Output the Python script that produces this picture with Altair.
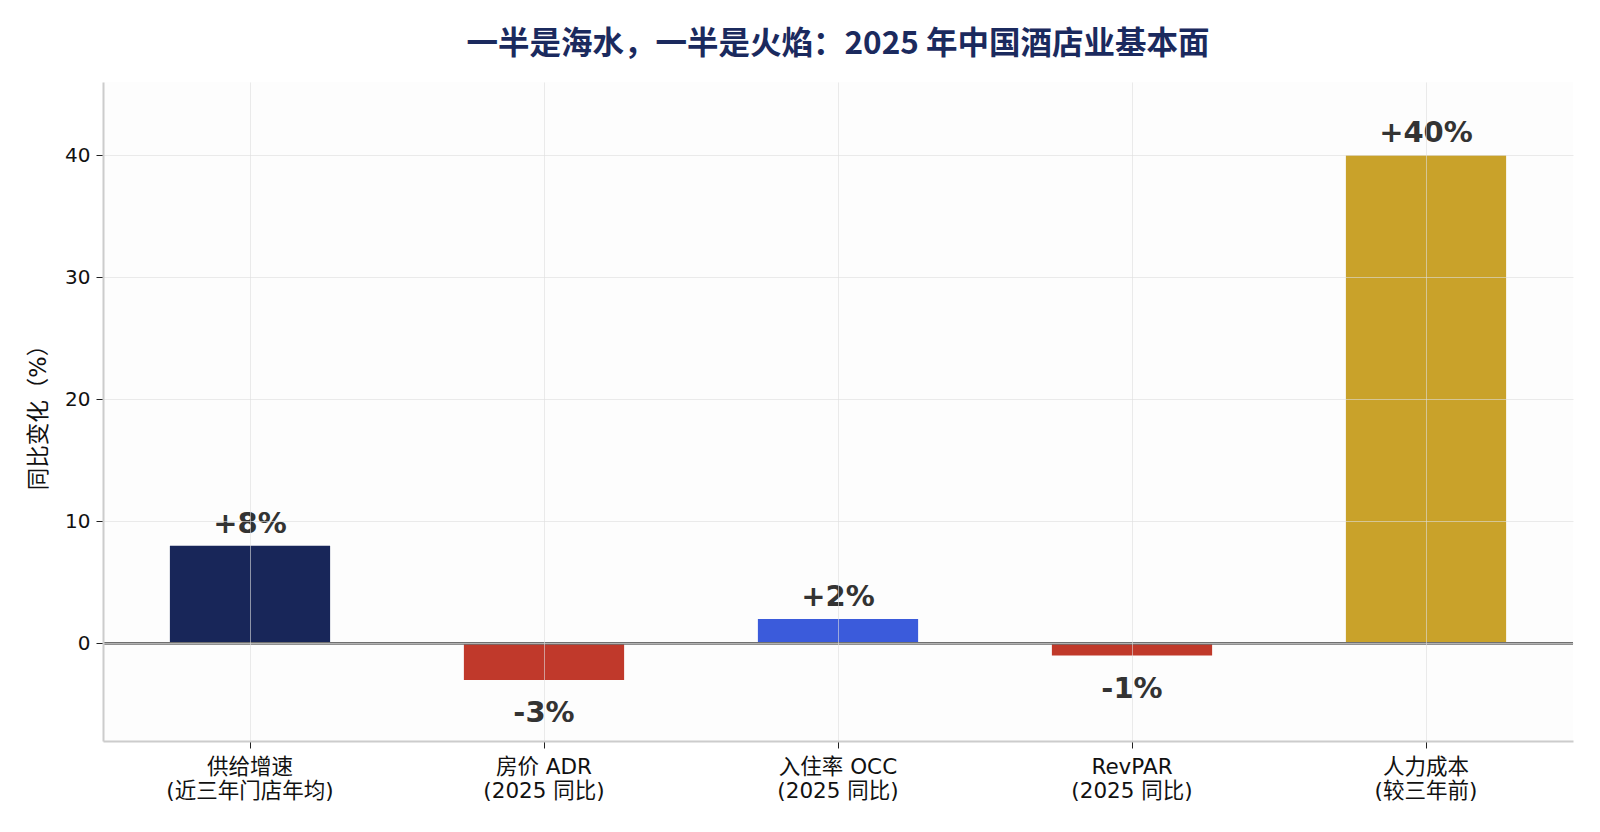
import altair as alt
import pandas as pd

categories = [
    "供给增速\n(近三年门店年均)",
    "房价 ADR\n(2025 同比)",
    "入住率 OCC\n(2025 同比)",
    "RevPAR\n(2025 同比)",
    "人力成本\n(较三年前)",
]
values = [8, -3, 2, -1, 40]
labels = ["+8%", "-3%", "+2%", "-1%", "+40%"]
bar_colors = ["#182659", "#c0392b", "#3b5bdb", "#c0392a", "#c9a22a"]

df = pd.DataFrame({"cat": categories, "value": values, "label": labels})

FONT = "DejaVu Sans, Noto Sans CJK SC"

x = alt.X(
    "cat:N",
    sort=categories,
    scale=alt.Scale(paddingInner=0.455, paddingOuter=0.2275),
    axis=alt.Axis(
        title=None,
        labelAngle=0,
        labelExpr="split(datum.label, '\\n')",
        labelFontSize=21.5,
        labelLineHeight=24,
        labelColor="#111",
        labelPadding=8,
        grid=True,
        gridColor="#dddddd",
        gridOpacity=0.6,
        tickColor="#222",
        tickSize=7,
        domainColor="#cccccc",
        domainWidth=2,
        zindex=1,
    ),
)

bars = (
    alt.Chart(df)
    .mark_bar()
    .encode(
        x=x,
        y=alt.Y(
            "value:Q",
            scale=alt.Scale(domain=[-8, 46], nice=False, zero=False),
            axis=alt.Axis(
                values=[0, 10, 20, 30, 40],
                title="同比变化（%）",
                titleFontSize=22.5,
                titleFontWeight="normal",
                titleColor="#111",
                titlePadding=14,
                labelFontSize=20,
                labelColor="#111",
                labelPadding=6,
                grid=True,
                gridColor="#dddddd",
                gridOpacity=0.6,
                tickColor="#222",
                tickSize=7,
                domainColor="#cccccc",
                domainWidth=2,
                zindex=1,
            ),
        ),
        color=alt.Color(
            "cat:N",
            scale=alt.Scale(domain=categories, range=bar_colors),
            legend=None,
        ),
    )
)

zero_line = alt.Chart(df).mark_rule(color="#707070", strokeWidth=2).encode(y=alt.datum(0))

pos_text = (
    alt.Chart(df)
    .transform_filter("datum.value > 0")
    .mark_text(fontSize=29, fontWeight="bold", color="#333333", dy=-13, baseline="alphabetic", font=FONT)
    .encode(x=alt.X("cat:N", sort=categories), y="value:Q", text="label:N")
)

neg_text = (
    alt.Chart(df)
    .transform_filter("datum.value < 0")
    .mark_text(fontSize=29, fontWeight="bold", color="#333333", dy=42, baseline="alphabetic", font=FONT)
    .encode(x=alt.X("cat:N", sort=categories), y="value:Q", text="label:N")
)

chart = (
    alt.layer(bars, zero_line, pos_text, neg_text)
    .properties(
        width=1470,
        height=659,
        autosize="none",
        padding={"left": 95, "top": 74, "right": 15, "bottom": 70},
        background="white",
        title=alt.TitleParams(
            "一半是海水，一半是火焰：2025 年中国酒店业基本面",
            font="Noto Sans CJK SC",
            fontSize=31.5,
            fontWeight="bold",
            color="#1b2a5e",
            anchor="middle",
            offset=22,
        ),
    )
    .configure_view(stroke=None, fill="#fdfdfd")
    .configure_axis(labelFont=FONT, titleFont=FONT)
)

chart.save("out.html", embed_options={"renderer": "svg", "actions": False})
